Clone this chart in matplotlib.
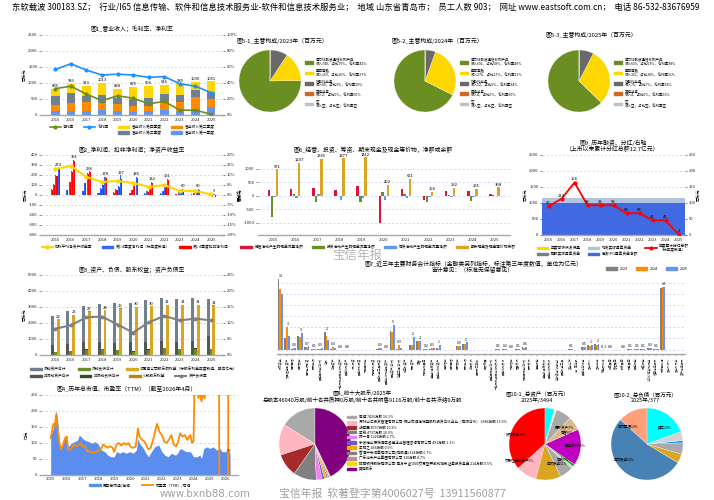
import numpy as np
import matplotlib
matplotlib.use('Agg')
import matplotlib.pyplot as plt
from matplotlib.patches import Patch
from matplotlib.lines import Line2D
from matplotlib.ticker import FuncFormatter

plt.rcParams['font.family'] = ['Noto Sans CJK SC', 'DejaVu Sans']
plt.rcParams['axes.unicode_minus'] = False

nan = float('nan')
# ---------------- data ----------------
header = ("东软载波 300183.SZ；  行业/I65 信息传输、软件和信息技术服务业-软件和信息技术服务业；  "
          "地域 山东省青岛市；  员工人数 903；  网址 www.eastsoft.com.cn；  电话 86-532-83676959")
years = [str(y) for y in range(2015, 2026)]

# Fig1 revenue by quarter (百万元), margins (%)
rev_q1 = [140, 140, 130, 160, 140, 100, 130, 170, 140, 200, 240]
rev_q2 = [180, 250, 270, 230, 190, 190, 150, 230, 280, 350, 260]
rev_q3 = [270, 290, 200, 230, 190, 220, 260, 250, 220, 230, 210]
rev_q4 = [215, 303, 313, 393, 308, 365, 366, 286, 345, 250, 341]
gross_margin = [57, 64, 56, 50, 51, 50, 47, 48, 39, 36, 28]
net_margin = [33, 36, 26, 18, 24, 21, 14, 17, 6, 6, 1]

# Fig2 cumulative quarterly net profit / deducted net profit, ROE
np_q1 = [60, 55, 45, 25, 30, 25, 20, 20, 10, 10, 2]
np_q2 = [110, 135, 125, 70, 60, 55, 40, 45, 30, 25, 5]
np_q3 = [200, 235, 220, 110, 95, 100, 70, 90, 45, 50, 8]
np_q4 = [273, 351, 236, 178, 197, 185, 132, 161, 60, 60, 9]
dn_q1 = [55, 50, 40, 20, 25, 20, 15, 15, 8, 5, -2]
dn_q2 = [100, 130, 120, 60, 55, 50, 30, 40, 25, 20, -5]
dn_q3 = [190, 230, 210, 100, 85, 90, 60, 80, 40, 45, -15]
dn_q4 = [265, 340, 225, 170, 160, 175, 120, 150, 55, 55, -20]
roe = [13, 14.5, 9, 6.5, 7, 6, 4, 5, 2, 2, 0.3]

# Fig6 cash flows (百万元)
cf_oper = [200, 250, 280, 200, 360, -1000, 240, -170, 170, 190, 70]
cf_inv = [-780, 70, -220, -30, -220, 150, 60, -220, 40, -180, 30]
cf_fin = [-60, -80, 70, -160, -90, -150, -80, -60, -60, -40, -20]
cash_end = [971, 1207, 1365, 1377, 1412, 402, 621, 154, 292, 255, 308]

# Fig9 financing & dividends
ipo_net = [990, 990, 990, 990, 990, 990, 990, 990, 990, 990, 990]
seo_raised = [166, 166, 166, 166, 166, 166, 166, 166, 166, 166, 166]
dividends = [90, 113, 164, 93, 93, 93, 68, 68, 46, 46, 2]

# Fig3 balance sheet (百万元)
cur_assets = [1850, 2080, 2260, 2400, 2480, 2430, 2620, 2730, 2730, 2670, 2294]
noncur_assets = [600, 700, 800, 800, 750, 800, 800, 850, 800, 900, 1200]
cur_liab = [190, 240, 330, 370, 290, 210, 330, 420, 360, 400, 357]
noncur_liab = [10, 15, 20, 15, 15, 15, 25, 20, 20, 20, 20]
equity = [2230, 2500, 2700, 2800, 2900, 3000, 3050, 3130, 3130, 3130, 3080]
minority = [20, 20, 20, 20, 20, 20, 20, 20, 20, 20, 20]
equity_label = [22, 25, 27, 28, 29, 30, 30, 31, 31, 31, 31]
debt_ratio = [8.2, 9.3, 11.8, 12.0, 9.5, 7.0, 10.2, 12.2, 10.8, 11.4, 10.8]

# Fig4 market cap (亿元) and PE TTM
mcap_t = [2015.0, 2015.17, 2015.35, 2015.45, 2015.55, 2015.7, 2015.9, 2016.0, 2016.1, 2016.3,
          2016.5, 2016.7, 2016.8, 2017.0, 2017.15, 2017.4, 2017.6, 2017.8, 2018.0, 2018.2,
          2018.4, 2018.6, 2018.8, 2019.0, 2019.15, 2019.35, 2019.55, 2019.75, 2020.0, 2020.2,
          2020.4, 2020.5, 2020.6, 2020.85, 2021.0, 2021.15, 2021.35, 2021.55, 2021.8, 2022.0,
          2022.2, 2022.4, 2022.6, 2022.85, 2023.0, 2023.15, 2023.35, 2023.55, 2023.8, 2024.0,
          2024.2, 2024.4, 2024.5, 2024.65, 2024.85, 2025.0, 2025.25, 2025.45, 2025.65, 2025.8,
          2026.0, 2026.17, 2026.3]
mcap = [120, 146, 203, 167, 99, 88, 115, 125, 88, 99,
        104, 109, 125, 115, 109, 104, 99, 104, 96, 78,
        73, 62, 57, 57, 73, 68, 73, 68, 73, 68,
        78, 115, 99, 83, 68, 57, 73, 88, 94, 73,
        62, 57, 68, 62, 68, 83, 78, 73, 73, 57,
        57, 62, 52, 83, 88, 83, 88, 78, 83, 73,
        73, 78, 68]
pe_t = [2015.0, 2015.17, 2015.25, 2015.35, 2015.45, 2015.55, 2015.65, 2015.75, 2015.9, 2016.0,
        2016.1, 2016.3, 2016.45, 2016.6, 2016.75, 2016.9, 2017.0, 2017.15, 2017.3, 2017.5,
        2017.7, 2017.85, 2018.0, 2018.15, 2018.3, 2018.45, 2018.6, 2018.75, 2018.9, 2019.0,
        2019.15, 2019.3, 2019.45, 2019.6, 2019.75, 2019.9, 2020.0, 2020.15, 2020.35, 2020.5,
        2020.6, 2020.75, 2020.9, 2021.0, 2021.15, 2021.3, 2021.45, 2021.6, 2021.7, 2021.85,
        2022.0, 2022.15, 2022.3, 2022.45, 2022.6, 2022.75, 2022.9, 2023.0, 2023.15, 2023.3,
        2023.45, 2023.6, 2023.8, 2023.9, 2024.0, 2024.1, 2024.3, 2024.4, 2024.5, 2024.6,
        2024.7, 2024.8, 2025.6, 2025.65, 2026.15, 2026.2, 2026.3]
pe = [115, 160, 150, 190, 140, 100, 80, 90, 115, 120,
      80, 80, 95, 90, 95, 100, 90, 90, 75, 72,
      70, 72, 75, 78, 95, 90, 85, 90, 85, 72,
      95, 100, 92, 100, 95, 100, 90, 85, 88, 145,
      120, 110, 105, 95, 80, 85, 110, 140, 160, 135,
      125, 105, 100, 110, 125, 95, 90, 100, 130, 120,
      125, 110, 125, 100, 105, 400, 240, 260, 230, 255,
      240, 300, 400, -500, -500, 600, 600]
mcap_last_label = 68

# Fig7 main indicators (亿元): 2023, 2024, 2025
fin_items = ['货币资金', '交易性金融资产', '应收票据', '应收账款', '应收款项融资', '预付款项', '其他应收款(合计)',
             '存货', '合同资产', '一年内到期的非流动资产', '其他流动资产', '债权投资', '其他债权投资', '长期应收款',
             '长期股权投资', '其他权益工具投资', '其他非流动金融资产', '固定资产(合计)', '在建工程(合计)', '使用权资产',
             '无形资产', '商誉', '长期待摊费用', '递延所得税资产', '其他非流动资产', '短期借款', '应付票据', '应付账款',
             '预收款项', '合同负债', '应付职工薪酬', '应交税费', '其他应付款(合计)', '一年内到期的非流动负债',
             '其他流动负债', '长期借款', '租赁负债', '长期应付款(合计)', '预计负债', '递延收益', '递延所得税负债',
             '其他非流动负债', '实收资本(或股本)', '其他权益工具', '资本公积', '减：库存股', '其他综合收益',
             '营业收入', '营业成本', '税金及附加', '销售费用', '管理费用', '研发费用', '财务费用', '其他收益',
             '投资收益', '公允价值变动收益', '信用减值损失', '未分配利润', '营业外收入', '营业外支出', '资产减值损失']
fin_2023 = [16.0, 2.6, 0.2, 3.1, 0.6, 0.1, 0.1, 3.9, 0.2, 0.0, 0.0, nan, nan, nan, nan, 0.2, 0.0, 4.1, 0.1, nan,
            1.0, 2.0, 0.1, 0.2, 0.3, nan, nan, 0.8, 1.2, nan, nan, nan, nan, 0.1, 0.2, 0.0, 0.1, 0.5, nan, nan,
            nan, nan, nan, nan, 0.1, nan, 0.6, 1.0, 1.2, -0.1, 0.0, nan, 0.0, 0.1, 0.1, 0.1, 0.3, 0.2, 13.9, nan,
            nan, nan]
fin_2024 = [13.6, 5.0, 0.3, 2.8, 0.5, 0.1, 0.2, 3.1, 0.5, 0.0, 0.0, nan, nan, nan, nan, 0.3, 0.0, 3.9, 1.0, nan,
            1.0, 2.0, 0.2, 0.3, 0.2, nan, nan, 0.7, 1.3, nan, nan, nan, nan, 0.1, 0.2, 0.0, 0.2, 0.4, nan, nan,
            nan, nan, nan, nan, 0.1, nan, 0.5, 0.9, 1.1, -0.2, 0.0, nan, 0.0, 0.1, 0.1, 0.1, 0.3, 0.2, 14.2, nan,
            nan, nan]
fin_2025 = [12.6, 3.0, 0.3, 3.7, 0.7, 0.1, 0.3, 2.2, 0.3, 0.0, 0.0, nan, nan, nan, nan, 0.3, 0.0, 5.6, 0.3, nan,
            2.8, 2.0, 0.2, 0.3, 1.0, nan, nan, 0.9, 1.6, nan, nan, nan, nan, 0.1, 0.2, 0.0, 0.1, 0.6, nan, nan,
            nan, nan, nan, nan, 0.1, nan, 0.5, 1.0, 1.2, -0.1, 0.0, nan, 0.0, 0.1, 0.1, 0.1, 0.3, 0.1, 14.0, nan,
            nan, nan]

# Fig5 main business composition
seg_names = ['电力线载波通信系列产品', '集成电路', '智能化业务', '其他业务', '空']
seg_rev_2023 = [740, 153, 89, 2, 0]
seg_share_2023 = [75, 16, 9, 0]
seg_gm_2023 = [42, 27, 29, 60]
seg_rev_2024 = [691, 276, 52, 4, 0]
seg_share_2024 = [68, 27, 5, 0]
seg_gm_2024 = [40, 17, 34, 60]
seg_rev_2025 = [659, 311, 76, 4, 0]
seg_share_2025 = [63, 30, 7, 0]
seg_gm_2025 = [38, 11, 31, 66]

# Fig8 top ten shareholders (万股)
holders = ['崔健', '深圳山汇投资管理有限公司-佛山市澜海瑞盛股权投资合伙企业（有限合伙）', '胡亚军', '王锐', '陈一青',
           '宁波梅山保税港区睿鹰企业管理咨询有限公司', '王阳之', '香港中央结算有限公司(陆股通)', '广东尚禾产业集团有限公司',
           '招商银行股份有限公司-南方中证1000交易型开放式指数证券投资基金', '其他股东']
holder_shares = [7426, 6386, 4737, 4737, 1224, 491, 436, 324, 320, 214, 19745]
holder_pct = [16.1, 13.9, 10.3, 10.3, 2.7, 1.1, 0.9, 0.7, 0.7, 0.5]

# Fig10 asset / liability structure (%)
asset_names = ['货币资金', '交易性金融资产', '应收账款', '存货', '在建工程', '其他流动资产', '固定资产', '商誉', '无形资产', '其他非流动资产', '其它']
asset_pct = [36, 9, 11, 6, 1, 1, 16, 6, 7, 1, 4]
liab_names = ['应付票据', '应付账款', '合同负债', '应付职工薪酬', '应交税费', '其他应付款', '其它']
liab_pct = [13, 52, 4, 5, 1, 4, 19]

# ---------------- figure ----------------
W, H = 714, 500
fig = plt.figure(figsize=(7.14, 5.0), dpi=100)
fig.patch.set_facecolor('white')


def add_ax(x0, y0, x1, y1):
    return fig.add_axes([x0 / W, 1 - y1 / H, (x1 - x0) / W, (y1 - y0) / H])


def ftext(x, y, s, **kw):
    kw.setdefault('fontsize', 4.2)
    kw.setdefault('ha', 'center')
    kw.setdefault('va', 'center')
    return fig.text(x / W, 1 - y / H, s, **kw)


def style(ax):
    for s in ['top', 'right', 'left']:
        ax.spines[s].set_visible(False)
    ax.spines['bottom'].set_color('#a8a8a8')
    ax.spines['bottom'].set_linewidth(1.0)
    ax.tick_params(labelsize=3, length=1.5, width=0.4, pad=1, colors='#222222')
    ax.tick_params(axis='x', length=0, pad=2)
    ax.yaxis.grid(True, ls=(0, (3, 3)), color='#c4c4f2', lw=0.5)
    ax.set_axisbelow(True)


def style_twin(ax):
    for s in ax.spines.values():
        s.set_visible(False)
    ax.tick_params(labelsize=3, length=1.5, width=0.4, pad=1, colors='#222222')


pct_fmt = FuncFormatter(lambda v, p: f'{v:g}%')
x = np.arange(len(years))
LFS = 2.7

ftext(12, 8, header, fontsize=6.0, ha='left')

# ---------- Fig1 ----------
ax1 = add_ax(41, 35, 223, 115)
style(ax1)
b0 = np.zeros(len(years))
cols1 = ['#6495ED', '#FF8C00', '#708090', '#FFD700']
for vals, c in zip([rev_q1, rev_q2, rev_q3, rev_q4], cols1):
    ax1.bar(x, vals, 0.55, bottom=b0, color=c)
    b0 = b0 + np.array(vals)
for xi, t in zip(x, b0):
    ax1.text(xi, t + 25, f'{t:.0f}', ha='center', va='bottom', fontsize=3)
ax1.set_ylim(0, 2500)
ax1.set_yticks(range(0, 2501, 500))
ax1.set_xticks(x, years)
ax1.set_xlim(-0.92, 10.77)
ax1.set_ylabel('百万元', fontsize=3, labelpad=1)
ax1b = ax1.twinx()
style_twin(ax1b)
ax1b.plot(x, gross_margin, color='#1E90FF', marker='o', ms=2, lw=1.2)
ax1b.plot(x, net_margin, color='#6B8E23', marker='o', ms=2, lw=1.2)
ax1b.set_ylim(0, 100)
ax1b.set_yticks(range(0, 101, 20))
ax1b.yaxis.set_major_formatter(pct_fmt)
ftext(132, 29, '图1_营业收入；毛利率、净利率')
blank = Line2D([], [], alpha=0)
h1 = [Line2D([], [], color='#6B8E23', marker='o', ms=2, lw=1.2), blank,
      Line2D([], [], color='#1E90FF', marker='o', ms=2, lw=1.2), blank,
      Patch(color='#FFD700'), Patch(color='#708090'), Patch(color='#FF8C00'), Patch(color='#6495ED')]
l1 = ['净利率', '', '毛利率', '', '营业收入第四季度', '营业收入第三季度', '营业收入第二季度', '营业收入第一季度']
fig.legend(h1, l1, loc='center', bbox_to_anchor=(132 / W, 1 - 130 / H), ncol=4, fontsize=LFS, frameon=False,
           handlelength=3, columnspacing=2.5, handletextpad=0.6, labelspacing=0.3, handleheight=0.6)

# ---------- Fig5 pies ----------
pie_cols5 = ['#6B8E23', '#FFD700', '#696969', '#D2691E', '#C0C0C0']


def seg_pie(cx, cy, r, tx, ty, title, revs, shares, gms, lx):
    ax = add_ax(cx - r, cy - r, cx + r, cy + r)
    ax.pie(revs, colors=pie_cols5, startangle=90, radius=1.0,
           wedgeprops={'linewidth': 0.2, 'edgecolor': 'white'})
    ax.set_xlim(-1, 1)
    ax.set_ylim(-1, 1)
    ftext(tx, ty, title, ha='left')
    labs = [f'{n}\n收入{rv}，占比{s}%，毛利率{g}%' for n, rv, s, g in zip(seg_names[:4], revs[:4], shares, gms)]
    labs.append('空\n收入空，占比空，毛利率空')
    fig.legend([Patch(color=c) for c in pie_cols5], labs, loc='upper left',
               bbox_to_anchor=(lx / W, 1 - 55 / H), fontsize=2.5, frameon=False, handlelength=2.2,
               handleheight=0.8, labelspacing=0.45, handletextpad=0.8)


seg_pie(270, 81, 31, 237, 41, '图5-1_主营构成/2023年（百万元）', seg_rev_2023, seg_share_2023, seg_gm_2023, 302)
seg_pie(425, 81, 31, 392, 41, '图5-2_主营构成/2024年（百万元）', seg_rev_2024, seg_share_2024, seg_gm_2024, 457)
seg_pie(579, 81, 31, 546, 35, '图5-3_主营构成/2025年（百万元）', seg_rev_2025, seg_share_2025, seg_gm_2025, 611)

# ---------- Fig2 ----------
ax2 = add_ax(41, 155, 223, 235)
style(ax2)
offs = [-0.225, -0.075, 0.075, 0.225]
for off, bv, rv in zip(offs, [np_q1, np_q2, np_q3, np_q4], [dn_q1, dn_q2, dn_q3, dn_q4]):
    ax2.bar(x + off - 0.035, bv, 0.07, color='#3366FF')
    ax2.bar(x + off + 0.035, rv, 0.07, color='#FF0000')
for xi, v, rv in zip(x, np_q4, dn_q4):
    ax2.text(xi + 0.2, max(v, rv) + 8, f'{v}', ha='center', va='bottom', fontsize=3)
ax2.set_ylim(-400, 400)
ax2.set_yticks(range(-400, 401, 100))
ax2.set_xticks(x, years)
ax2.set_xlim(-0.92, 10.77)
ax2.set_ylabel('百万元', fontsize=3, labelpad=1)
ax2b = ax2.twinx()
style_twin(ax2b)
ax2b.plot(x, roe, color='#FFD700', marker='o', ms=2.2, lw=1.5)
ax2b.set_ylim(-20, 20)
ax2b.set_yticks(range(-20, 21, 5))
ax2b.yaxis.set_major_formatter(pct_fmt)
ax2b.set_ylabel('百分比', fontsize=3, labelpad=1)
ftext(132, 150, '图2_净利润、扣非净利润；净资产收益率')
fig.legend([Line2D([], [], color='#FFD700', marker='o', ms=2, lw=1.5), Patch(color='#3366FF'), Patch(color='#FF0000')],
           ['加权平均净资产收益率', '第1-4季度净利润（标年度数值）', '第1-4季度扣非净利润'],
           loc='center', bbox_to_anchor=(135 / W, 1 - 247 / H), ncol=3, fontsize=LFS, frameon=False,
           handlelength=3, columnspacing=2.5, handletextpad=0.6, handleheight=0.6)

# ---------- Fig6 ----------
ax6 = add_ax(258, 155, 510, 235)
style(ax6)
offs6 = [-0.18, -0.06, 0.06, 0.18]
cols6 = ['#DC143C', '#6B8E23', '#6495ED', '#DAA520']
for off, vals, c in zip(offs6, [cf_oper, cf_inv, cf_fin, cash_end], cols6):
    ax6.bar(x + off, vals, 0.11, color=c)
for xi, v in zip(x, cash_end):
    ax6.text(xi + 0.18, v + 25, f'{v}', ha='center', va='bottom', fontsize=3)
ax6.set_ylim(-1450, 1500)
ax6.set_yticks([-1000, -500, 0, 500, 1000])
ax6.set_xticks(x, years)
ax6.set_xlim(-0.68, 10.7)
ax6.set_ylabel('百万元', fontsize=3, labelpad=1)
ftext(373, 150, '图6_经营、投资、筹资、期末现金及现金等价物，净额或余额')
fig.legend([Patch(color=c) for c in cols6],
           ['经营活动产生的现金流量净额', '投资活动产生的现金流量净额', '筹资活动产生的现金流量净额', '期末现金及现金等价物余额'],
           loc='center left', bbox_to_anchor=(237 / W, 1 - 247 / H), ncol=4, fontsize=LFS, frameon=False,
           handlelength=3, columnspacing=2.4, handletextpad=0.8, handleheight=0.6)

# ---------- Fig9 ----------
ax9 = add_ax(542, 155, 685, 235)
style(ax9)
ax9.bar(x, ipo_net, 1.0, color='#4169E1')
ax9.bar(x, seo_raised, 1.0, bottom=ipo_net, color='#B0C4DE')
ax9.set_ylim(0, 2500)
ax9.set_yticks(range(0, 2501, 500))
ax9.set_xticks(x, years)
ax9.set_xlim(-0.5, 10.5)
ax9.set_ylabel('百万元', fontsize=3, labelpad=1)
ax9b = ax9.twinx()
style_twin(ax9b)
ax9b.plot(x, dividends, color='#FF0000', marker='o', ms=2, lw=1.3)
for xi, v in zip(x, dividends):
    ax9b.text(xi, v + 4, f'{v}', ha='center', va='bottom', fontsize=3)
ax9b.set_ylim(0, 250)
ax9b.set_yticks(range(0, 251, 50))
ax9b.set_ylabel('百万元', fontsize=3, labelpad=1)
ftext(613, 146, '图9_历年融资、分红/右轴\n（上市以来累计分红总额12.7亿元）', linespacing=1.0)
fig.legend([Patch(color='#FFD700'), Patch(color='#708090'), Patch(color='#B0C4DE'), Patch(color='#4169E1'),
            Line2D([], [], color='#FF0000', marker='o', ms=2, lw=1.3)],
           ['年度可转债发行量', '配股实际募集资金', '增发实际募集资金', '首发IPO募集资金净额', '年度累计分红总额\n（标年度数值）'],
           loc='center', bbox_to_anchor=(613 / W, 1 - 250 / H), ncol=3, fontsize=LFS, frameon=False,
           handlelength=3, columnspacing=2.0, handletextpad=0.6, labelspacing=0.4, handleheight=0.6)

# ---------- Fig3 ----------
ax3 = add_ax(41, 275, 223, 355)
style(ax3)
ax3.bar(x - 0.19, noncur_assets, 0.19, color='#555555')
ax3.bar(x - 0.19, cur_assets, 0.19, bottom=noncur_assets, color='#708090')
ax3.bar(x, cur_liab, 0.19, color='#6B8E23')
ax3.bar(x, noncur_liab, 0.19, bottom=cur_liab, color='#2F4F1F')
ax3.bar(x + 0.19, equity, 0.19, color='#DAA520')
ax3.bar(x + 0.19, minority, 0.19, bottom=equity, color='#B8860B')
for xi, v, lab in zip(x, equity, equity_label):
    ax3.text(xi + 0.19, v + 40, f'{lab}', ha='center', va='bottom', fontsize=3)
ax3.set_ylim(0, 5000)
ax3.set_yticks(range(0, 5001, 1000))
ax3.set_xticks(x, years)
ax3.set_xlim(-0.92, 10.77)
ax3.set_ylabel('百万元', fontsize=3, labelpad=1)
ax3b = ax3.twinx()
style_twin(ax3b)
ax3b.plot(x, debt_ratio, color='#808080', marker='o', ms=1.8, lw=1.5)
ax3b.set_ylim(0, 25)
ax3b.set_yticks(range(0, 26, 5))
ax3b.yaxis.set_major_formatter(pct_fmt)
ftext(132, 270, '图3_资产、负债、股东权益；资产负债率')
fig.legend([Patch(color='#708090'), Patch(color='#6B8E23'), Patch(color='#DAA520')],
           ['流动资产合计', '流动负债合计', '归属母公司股东的权益（标股东权益年度数值，单位亿元）'],
           loc='center left', bbox_to_anchor=(27 / W, 1 - 369 / H), ncol=3, fontsize=LFS, frameon=False,
           handlelength=3, columnspacing=3.2, handletextpad=0.6, handleheight=0.6)
fig.legend([Patch(color='#555555'), Patch(color='#2F4F1F'), Patch(color='#B8860B'),
            Line2D([], [], color='#808080', marker='o', ms=1.8, lw=1.5)],
           ['非流动资产合计', '非流动负债合计', '少数股东权益', '资产负债率'],
           loc='center left', bbox_to_anchor=(27 / W, 1 - 376 / H), ncol=4, fontsize=LFS, frameon=False,
           handlelength=3, columnspacing=2.6, handletextpad=0.6, handleheight=0.6)

# ---------- Fig4 ----------
ax4 = add_ax(41, 395, 238, 475)
style(ax4)
ax4.fill_between(mcap_t, 0, mcap, color='#5B8DEF', lw=0)
ax4.plot(pe_t, pe, color='#FF8C00', lw=1.3)
ax4.text(mcap_t[-1] - 0.05, mcap[-1] + 2, f'{mcap_last_label}', fontsize=3, ha='center', va='bottom', color='#333333')
ax4.set_ylim(0, 250)
ax4.set_yticks(range(0, 251, 50))
ax4.set_xlim(2014.39, 2026.8)
ax4.set_xticks(range(2015, 2027), [str(y) for y in range(2015, 2027)])
ax4.tick_params(axis='x', length=1.0, width=0.4, pad=0.6)
ax4.set_ylabel('亿元', fontsize=3, labelpad=1)
ftext(127, 389, '图4_历年总市值、市盈率（TTM）（截至2026年4月）')
fig.legend([Patch(color='#5B8DEF'), Line2D([], [], color='#FF8C00', lw=1.3)],
           ['历年总市值/左轴', '市盈率（TTM）/右轴'],
           loc='center', bbox_to_anchor=(140 / W, 1 - 485.3 / H), ncol=2, fontsize=LFS, frameon=False,
           handlelength=3, columnspacing=3.0, handletextpad=0.6, handleheight=0.6, borderpad=0.1)

# ---------- Fig7 ----------
ax7 = add_ax(277, 275, 685, 354)
style(ax7)
xf = np.arange(len(fin_items))
for off, vals, c in zip([-0.27, 0, 0.27], [fin_2023, fin_2024, fin_2025], ['#808080', '#FF8C00', '#6495ED']):
    ax7.bar(xf + off, vals, 0.27, color=c)
for xi, a, b, c in zip(xf, fin_2023, fin_2024, fin_2025):
    if np.isnan(c):
        continue
    top = np.nanmax([a, b, c, 0])
    lab = f'{int(c)}' if abs(c) >= 1 else f'{c:.1f}'
    ax7.text(xi + 0.1, top + 0.2, lab, ha='center', va='bottom', fontsize=2.6)
ax7.set_ylim(-1, 16.8)
ax7.set_yticks(np.arange(0, 15.1, 2.5))
ax7.tick_params(axis='y', labelleft=False, length=0)
ax7.set_xticks(xf, fin_items, rotation=90, fontsize=2.1)
ax7.tick_params(axis='x', length=1.2, width=0.3, pad=1.5)
ax7.set_xlim(-0.5, 61.4)
ftext(473, 266.5, '图7_近三年主要财务会计指标（金融类另列指标，标注第三年度数值，单位为亿元）\n审计意见：（标准无保留意见）',
      linespacing=1.0)
fig.legend([Patch(color='#808080'), Patch(color='#FF8C00'), Patch(color='#6495ED')], ['2023', '2024', '2025'],
           loc='center', bbox_to_anchor=(647 / W, 1 - 269 / H), ncol=3, fontsize=LFS, frameon=False,
           handlelength=3, columnspacing=2.0, handletextpad=0.8, handleheight=0.6)

# ---------- Fig8 ----------
cols8 = ['#A9A9A9', '#FFB6C1', '#A52A2A', '#808080', '#EE82EE', '#6A5ACD', '#FFA500', '#808080', '#BC8F8F',
         '#FFD700', '#800080']
ax8 = add_ax(279, 408, 351, 480)
ax8.pie(holder_shares, colors=cols8, startangle=90, wedgeprops={'linewidth': 0.2, 'edgecolor': 'white'})
ax8.set_xlim(-1, 1)
ax8.set_ylim(-1, 1)
ftext(362, 396.5, '图8_前十大股东/2025年\n总股本46040万股/前十名共质押0万股/前十名共限售9116万股/前十名共冻结0万股',
      linespacing=1.0, fontsize=4.0)
labs8 = [f'{n} {s}万股 {p}%' for n, s, p in zip(holders[:10], holder_shares[:10], holder_pct)] + [holders[10]]
fig.legend([Patch(color=c) for c in cols8], labs8, loc='upper left', bbox_to_anchor=(344 / W, 1 - 412 / H),
           fontsize=2.6, frameon=False, handlelength=2.4, handleheight=0.7, labelspacing=0.25, handletextpad=0.8)

# ---------- Fig10 ----------
cols10a = ['#FF0000', '#FFB6C1', '#DAA520', '#A9A9A9', '#D3D3D3', '#00AA00', '#C000C0', '#DEB887', '#A9A9A9',
           '#FFFACD', '#00FFFF']
ax10a = add_ax(509, 408, 581, 480)
labs10a = [f'{n}{p}%' if p >= 6 else '' for n, p in zip(asset_names, asset_pct)]
ax10a.pie(asset_pct, colors=cols10a, startangle=90, labels=labs10a, labeldistance=0.55,
          textprops={'fontsize': 2.5}, wedgeprops={'linewidth': 0.2, 'edgecolor': 'white'})
ax10a.set_xlim(-1, 1)
ax10a.set_ylim(-1, 1)
ftext(537, 397, '图10-1_总资产（百万元）\n2025年/3494', linespacing=1.0, fontsize=4.0)

cols10b = ['#FFA07A', '#4682B4', '#DAA520', '#A9A9A9', '#1E90FF', '#D3D3D3', '#00FFFF']
ax10b = add_ax(611, 408, 683, 480)
labs10b = [f'{n}{p}%' if p >= 10 else '' for n, p in zip(liab_names, liab_pct)]
ax10b.pie(liab_pct, colors=cols10b, startangle=90, labels=labs10b, labeldistance=0.55,
          textprops={'fontsize': 2.5}, wedgeprops={'linewidth': 0.2, 'edgecolor': 'white'})
ax10b.set_xlim(-1, 1)
ax10b.set_ylim(-1, 1)
ftext(645, 397, '图10-2_总负债（百万元）\n2025年/377', linespacing=1.0, fontsize=4.0)

# ---------- watermarks ----------
ftext(357, 255, '宝信年报', fontsize=9, color='#b4b4b4')
ftext(160, 494.0, 'www.bxnb88.com', fontsize=7.4, color='#a0a0a0', ha='left', family='DejaVu Sans')
ftext(279, 493.2, '宝信年报  软著登字第4006027号  13911560877', fontsize=7.8, color='#a0a0a0', ha='left')

fig.savefig('out.png', dpi=100)
